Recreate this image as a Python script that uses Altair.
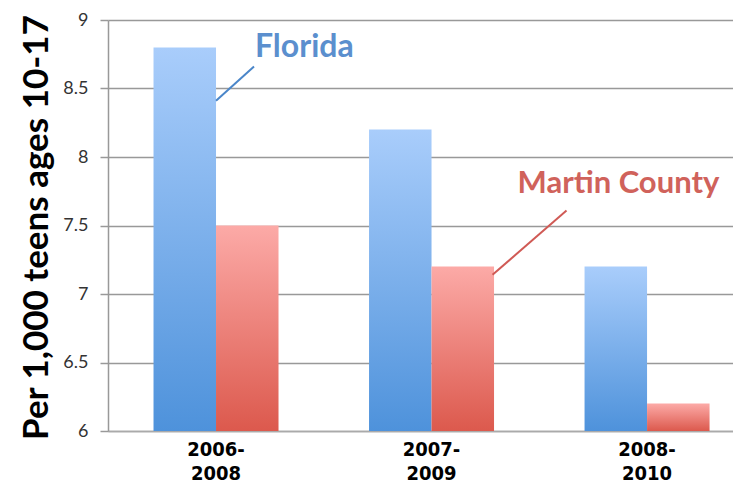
import altair as alt
import pandas as pd

periods = ["2006-2008", "2007-2009", "2008-2010"]
florida = [8.8, 8.2, 7.2]
martin = [7.5, 7.2, 6.2]
series = ["Florida", "Martin County"]
y_ticks = [6, 6.5, 7, 7.5, 8, 8.5, 9]

rows = []
for p, f, m in zip(periods, florida, martin):
    rows.append({"period": p, "series": "Florida", "value": f})
    rows.append({"period": p, "series": "Martin County", "value": m})
df = pd.DataFrame(rows)

# annotation data (in data coordinates)
fl_label = pd.DataFrame([{"period": "2006-2008", "value": 8.8, "label": "Florida"}])
mc_label = pd.DataFrame([{"period": "2007-2009", "value": 7.8, "label": "Martin County"}])
fl_line = pd.DataFrame([{"period": "2006-2008", "value": 8.66, "value2": 8.41}])
mc_line = pd.DataFrame([{"period": "2007-2009", "value": 7.61, "value2": 7.14}])

LABEL_FONT = "Lato"
XLAB_FONT = "Liberation Sans Narrow, DejaVu Sans Condensed, Roboto Condensed, Lato, sans-serif"

x_enc = alt.X(
    "period:N",
    sort=periods,
    scale=alt.Scale(domain=periods, paddingInner=0.42, paddingOuter=0.16, align=0.66),
    axis=alt.Axis(
        title=None, labelAngle=0, ticks=False, grid=False,
        domainColor="#aaaaaa", domainWidth=1.5,
        labelFont=XLAB_FONT, labelFontSize=20, labelFontWeight="bold",
        labelColor="#000000", labelPadding=8, labelLineHeight=24,
        labelBaseline="top",
        labelExpr="[slice(datum.label, 0, 5), slice(datum.label, 5)]",
    ),
)

y_scale = alt.Scale(domain=[6, 9], nice=False, zero=False)
y_enc = alt.Y(
    "value:Q",
    scale=y_scale,
    axis=alt.Axis(
        values=y_ticks, format="~g",
        title="Per 1,000 teens ages 10-17",
        titleFont=LABEL_FONT, titleFontSize=35, titleFontWeight="bold", titleColor="#000000",
        titleAngle=270, titleAlign="center", titleBaseline="middle",
        titleX=-72, titleY=207,
        labelFont=LABEL_FONT, labelFontSize=18, labelColor="#333333", labelPadding=12,
        tickSize=8, tickColor="#999999", tickWidth=1.5,
        domainColor="#999999", domainWidth=1.5,
        gridColor="#999999", gridWidth=1.5,
    ),
)

grad_f = alt.Gradient(
    gradient="linear", x1=0, x2=0, y1=0, y2=1,
    stops=[alt.GradientStop(color="#a9cdfb", offset=0), alt.GradientStop(color="#4e92db", offset=1)],
)
grad_m = alt.Gradient(
    gradient="linear", x1=0, x2=0, y1=0, y2=1,
    stops=[alt.GradientStop(color="#fcaaa7", offset=0), alt.GradientStop(color="#dc594d", offset=1)],
)

xoff = alt.XOffset("series:N", scale=alt.Scale(domain=series, paddingInner=0, paddingOuter=0))

bars_f = alt.Chart(df).transform_filter(alt.datum.series == "Florida").mark_bar(color=grad_f).encode(
    x=x_enc, xOffset=xoff, y=y_enc, y2=alt.datum(6)
)
bars_m = alt.Chart(df).transform_filter(alt.datum.series == "Martin County").mark_bar(color=grad_m).encode(
    x=x_enc, xOffset=xoff, y=y_enc, y2=alt.datum(6)
)

line_f = alt.Chart(fl_line).mark_rule(color="#4a86c9", strokeWidth=2, xOffset=38, x2Offset=0).encode(
    x=x_enc, x2=alt.X2("period"), y=y_enc, y2=alt.Y2("value2")
)
line_m = alt.Chart(mc_line).mark_rule(color="#d05a55", strokeWidth=2, xOffset=135, x2Offset=61).encode(
    x=x_enc, x2=alt.X2("period"), y=y_enc, y2=alt.Y2("value2")
)

text_f = alt.Chart(fl_label).mark_text(
    align="left", baseline="middle", dx=39, font=LABEL_FONT, fontSize=32, fontWeight="bold", color="#5b8fce"
).encode(x=x_enc, y=y_enc, text="label:N")
text_m = alt.Chart(mc_label).mark_text(
    align="left", baseline="middle", dx=86, font=LABEL_FONT, fontSize=31, fontWeight="bold", color="#d0625b"
).encode(x=x_enc, y=y_enc, text="label:N")

chart = alt.layer(bars_f, bars_m, line_f, line_m, text_f, text_m).properties(
    width=625, height=411,
    padding={"left": 100, "top": 12, "right": 0, "bottom": 53},
    autosize=alt.AutoSizeParams(type="none"),
).configure_view(stroke=None)

chart.save("out.html", embed_options={"renderer": "svg", "actions": False})
